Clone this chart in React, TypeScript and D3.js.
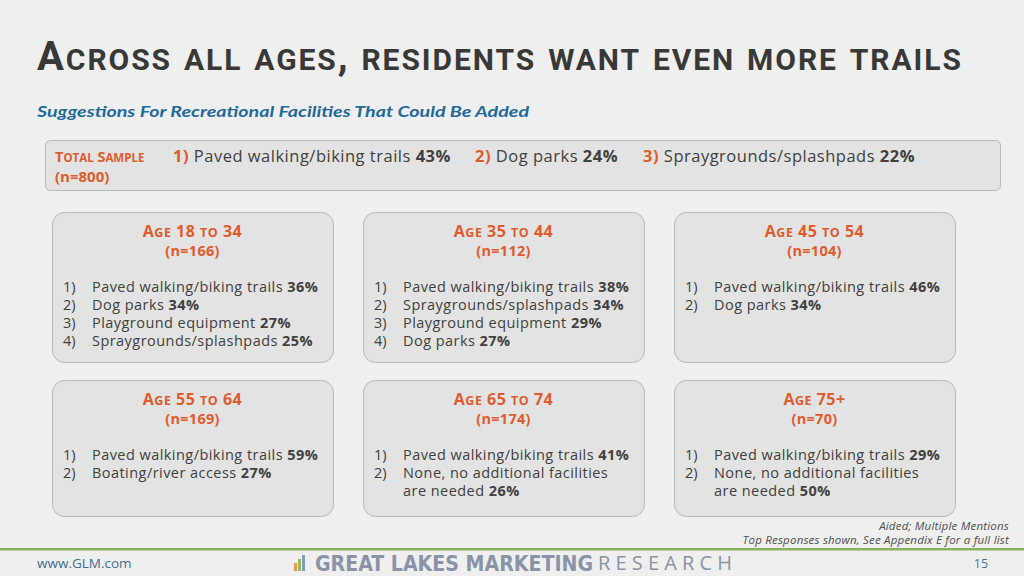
import React from "react";
import * as d3 from "d3";

const W = 1024;
const H = 576;

const titleText = "Across all ages, residents want even more trails";
const subtitleText = "Suggestions For Recreational Facilities That Could Be Added";

const totalLabel = "Total Sample";
const totalN = "(n=800)";
const totalItems = ["Paved walking/biking trails", "Dog parks", "Spraygrounds/splashpads"];
const totalPcts = [43, 24, 22];

const ageGroups = ["Age 18 to 34", "Age 35 to 44", "Age 45 to 54", "Age 55 to 64", "Age 65 to 74", "Age 75+"];
const sampleSizes = [166, 112, 104, 169, 174, 70];
const groupLabels = [
  ["Paved walking/biking trails", "Dog parks", "Playground equipment", "Spraygrounds/splashpads"],
  ["Paved walking/biking trails", "Spraygrounds/splashpads", "Playground equipment", "Dog parks"],
  ["Paved walking/biking trails", "Dog parks"],
  ["Paved walking/biking trails", "Boating/river access"],
  ["Paved walking/biking trails", "None, no additional facilities|are needed"],
  ["Paved walking/biking trails", "None, no additional facilities|are needed"],
];
const groupPcts = [
  [36, 34, 27, 25],
  [38, 34, 29, 27],
  [46, 34],
  [59, 27],
  [41, 26],
  [29, 50],
];

const notes = ["Aided; Multiple Mentions", "Top Responses shown, See Appendix E for a full list"];

const ORANGE = "#e05b2a";
const TEXT = "#404040";
const BODY_FONT = "'Open Sans', Lato, sans-serif";

// split into small-caps runs
function smallCaps(s: string, big: number, small: number) {
  const runs: { t: string; size: number }[] = [];
  for (const ch of s) {
    const isLower = ch !== ch.toUpperCase();
    const size = isLower ? small : big;
    const t = ch.toUpperCase();
    if (runs.length && runs[runs.length - 1].size === size) runs[runs.length - 1].t += t;
    else runs.push({ t, size });
  }
  return runs;
}

export default function App() {
  const col = d3.scaleBand<number>().domain([0, 1, 2]).range([52, 955]).paddingInner(0.0965);
  const row = d3.scaleOrdinal<number, number>().domain([0, 1]).range([212, 380]);
  const rowH = d3.scaleOrdinal<number, number>().domain([0, 1]).range([150, 136]);
  const lineY = d3.scaleLinear().domain([0, 1]).range([0, 18]);

  const titleRuns = smallCaps(titleText, 40, 30);

  const totalX = [173, 475, 643];

  return (
    <div style={{ position: "fixed", left: 0, top: 0, width: W, height: H }}>
      <svg width={W} height={H} style={{ display: "block" }}>
        <rect width={W} height={H} fill="#efefef" />
        {/* Title */}
        <text x={37} y={70} fill="#383838" fontWeight="bold"
          fontFamily="Roboto, 'DejaVu Sans Condensed', sans-serif"
          textLength={924} lengthAdjust="spacing">
          {titleRuns.map((r, i) => (
            <tspan key={i} fontSize={r.size}>{r.t}</tspan>
          ))}
        </text>
        <text x={37} y={117} fill="#1e6b9a" fontFamily="Lato, sans-serif" fontStyle="italic" fontWeight="bold"
          fontSize={15.5} textLength={492} lengthAdjust="spacingAndGlyphs">
          {subtitleText}
        </text>

        {/* Total sample box */}
        <rect x={45.5} y={140.5} width={955} height={50} rx={5} fill="#e3e3e3" stroke="#b9b9b9" />
        <text x={55} y={162} fill={ORANGE} fontFamily={BODY_FONT} fontWeight="bold">
          {smallCaps(totalLabel, 14.5, 11.5).map((r, i) => (
            <tspan key={i} fontSize={r.size}>{r.t}</tspan>
          ))}
        </text>
        <text x={55} y={182} fill={ORANGE} fontFamily={BODY_FONT} fontWeight="bold" fontSize={15}>{totalN}</text>
        {totalItems.map((lab, i) => (
          <text key={i} x={totalX[i]} y={162} fontFamily={BODY_FONT} fontSize={16.5} letterSpacing={0.5}>
            <tspan fill={ORANGE} fontWeight="bold">{i + 1})</tspan>
            <tspan fill={TEXT}> {lab} </tspan>
            <tspan fill={TEXT} fontWeight="bold">{totalPcts[i]}%</tspan>
          </text>
        ))}

        {/* Age boxes */}
        {ageGroups.map((g, gi) => {
          const c = gi % 3;
          const r = Math.floor(gi / 3);
          const x = col(c)!;
          const y = row(r);
          const w = col.bandwidth();
          const h = rowH(r);
          const cx = x + w / 2;
          let li = 0;
          return (
            <g key={gi}>
              <rect x={x + 0.5} y={y + 0.5} width={w} height={h} rx={12} fill="#e3e3e3" stroke="#b9b9b9" />
              <text x={cx} y={y + 25} textAnchor="middle" fill={ORANGE} fontFamily={BODY_FONT} fontWeight="bold"
                letterSpacing={0.5}>
                {smallCaps(g, 16, 12.5).map((rr, i) => (
                  <tspan key={i} fontSize={rr.size}>{rr.t}</tspan>
                ))}
              </text>
              <text x={cx} y={y + 44} textAnchor="middle" fill={ORANGE} fontFamily={BODY_FONT} fontWeight="bold"
                fontSize={14.5} letterSpacing={0.3}>
                (n={sampleSizes[gi]})
              </text>
              {groupLabels[gi].map((lab, k) => {
                const parts = lab.split("|");
                const els = parts.map((p, pi) => {
                  const yy = y + 80 + lineY(li);
                  li += 1;
                  const last = pi === parts.length - 1;
                  return (
                    <g key={pi}>
                      {pi === 0 && (
                        <text x={x + 11} y={yy} fill={TEXT} fontFamily={BODY_FONT} fontSize={14.5}>{k + 1})</text>
                      )}
                      <text x={x + 40} y={yy} fill={TEXT} fontFamily={BODY_FONT} fontSize={14.5} letterSpacing={0.45}>
                        <tspan>{p}</tspan>
                        {last && <tspan fontWeight="bold"> {groupPcts[gi][k]}%</tspan>}
                      </text>
                    </g>
                  );
                });
                return <g key={k}>{els}</g>;
              })}
            </g>
          );
        })}

        {/* Notes */}
        {notes.map((n, i) => (
          <text key={i} x={1009} y={529.5 + i * 14.5} textAnchor="end" fill="#505050" fontFamily={BODY_FONT}
            fontStyle="italic" fontSize={11.5} letterSpacing={0.2}>{n}</text>
        ))}

        {/* Footer */}
        <rect x={0} y={548} width={W} height={2.5} fill="#8bb05d" />
        <text x={37} y={568} fill="#3f6d8e" fontFamily={BODY_FONT} fontSize={13.5}>www.GLM.com</text>
        <g>
          <rect x={294} y={563} width={3} height={8} fill="#e79a4a" />
          <rect x={298} y={559} width={3} height={12} fill="#9bbb59" />
          <rect x={302} y={555} width={3} height={16} fill="#7f9bb8" />
        </g>
        <text x={315} y={571} fill="#8a93a8" fontFamily="'DejaVu Sans Condensed', sans-serif" fontWeight="bold"
          fontSize={21} textLength={278} lengthAdjust="spacingAndGlyphs">GREAT LAKES MARKETING</text>
        <text x={598} y={570} fill="#8a93a8" fontFamily="'Open Sans', sans-serif" fontWeight="normal"
          fontSize={20} textLength={134} lengthAdjust="spacing">RESEARCH</text>
        <text x={981} y={568} textAnchor="middle" fill="#3a7ca5" fontFamily={BODY_FONT} fontSize={12.5}>15</text>
      </svg>
    </div>
  );
}
